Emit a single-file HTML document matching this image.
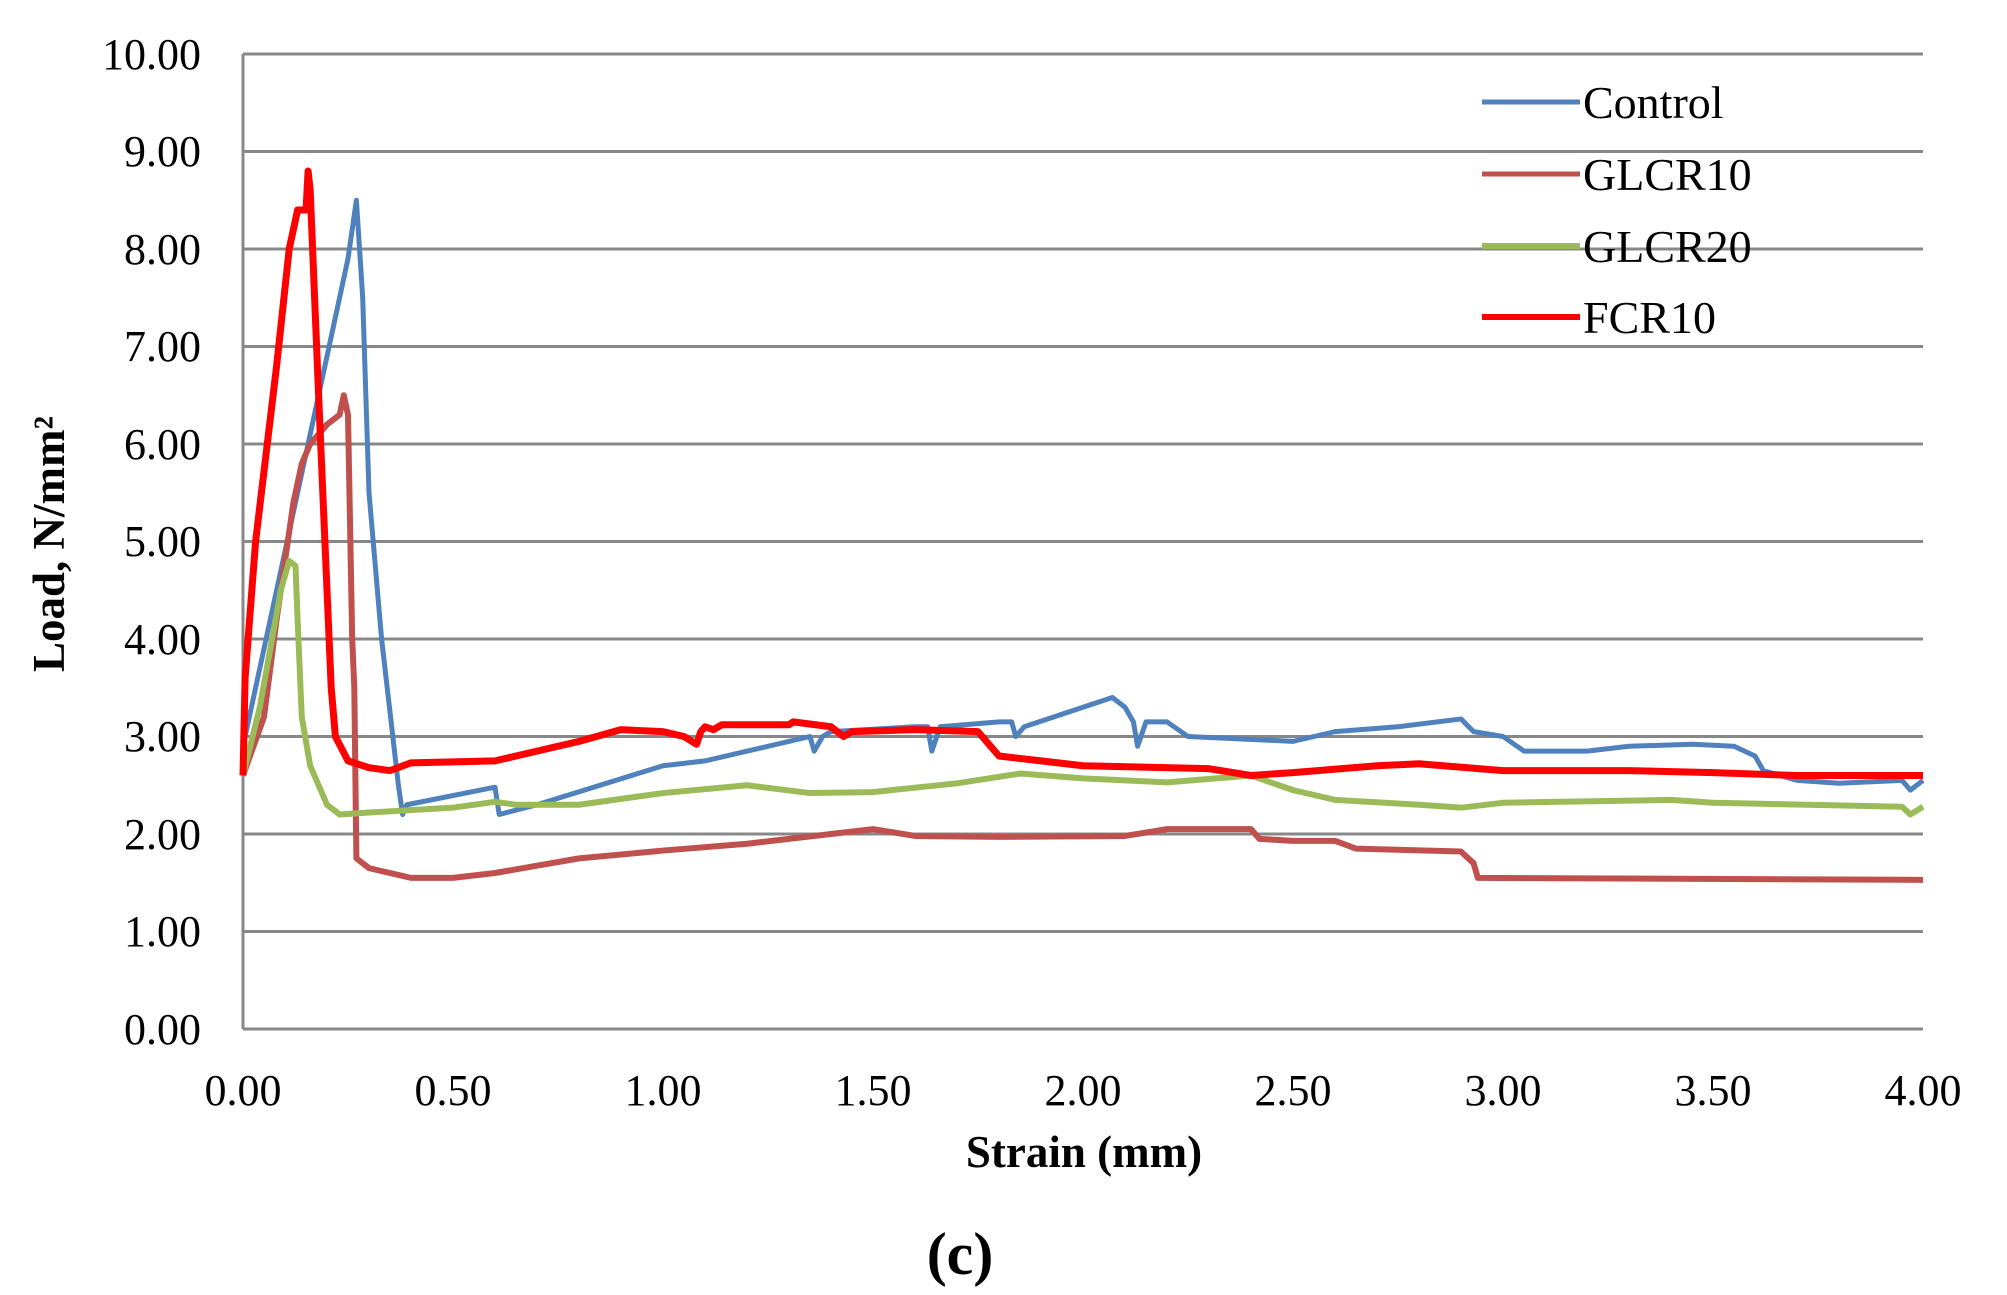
<!DOCTYPE html>
<html><head><meta charset="utf-8"><style>
html,body{margin:0;padding:0;background:#fff;}
svg{display:block;}
text{font-family:"Liberation Serif",serif;fill:#000;}
</style></head><body>
<svg width="2007" height="1295" viewBox="0 0 2007 1295" xmlns="http://www.w3.org/2000/svg">
<g stroke="#888" stroke-width="3">
<line x1="243" y1="54" x2="1923" y2="54"/>
<line x1="243" y1="151.5" x2="1923" y2="151.5"/>
<line x1="243" y1="249" x2="1923" y2="249"/>
<line x1="243" y1="346.5" x2="1923" y2="346.5"/>
<line x1="243" y1="444" x2="1923" y2="444"/>
<line x1="243" y1="541.5" x2="1923" y2="541.5"/>
<line x1="243" y1="639" x2="1923" y2="639"/>
<line x1="243" y1="736.5" x2="1923" y2="736.5"/>
<line x1="243" y1="834" x2="1923" y2="834"/>
<line x1="243" y1="931.5" x2="1923" y2="931.5"/>
<line x1="243" y1="1029" x2="1923" y2="1029"/>
<line x1="243" y1="54" x2="243" y2="1029"/>
</g>
<g font-size="44" text-anchor="end">
<text x="201" y="69">10.00</text>
<text x="201" y="166">9.00</text>
<text x="201" y="264">8.00</text>
<text x="201" y="361">7.00</text>
<text x="201" y="459">6.00</text>
<text x="201" y="556">5.00</text>
<text x="201" y="654">4.00</text>
<text x="201" y="751">3.00</text>
<text x="201" y="849">2.00</text>
<text x="201" y="946">1.00</text>
<text x="201" y="1044">0.00</text>
</g>
<g font-size="44" text-anchor="middle">
<text x="243" y="1105">0.00</text>
<text x="453" y="1105">0.50</text>
<text x="663" y="1105">1.00</text>
<text x="873" y="1105">1.50</text>
<text x="1083" y="1105">2.00</text>
<text x="1293" y="1105">2.50</text>
<text x="1503" y="1105">3.00</text>
<text x="1713" y="1105">3.50</text>
<text x="1923" y="1105">4.00</text>
</g>
<text x="1084" y="1167" font-size="45" font-weight="bold" text-anchor="middle">Strain (mm)</text>
<text x="960" y="1274" font-size="60" font-weight="bold" text-anchor="middle">(c)</text>
<text transform="translate(64,544) rotate(-90)" font-size="45" font-weight="bold" text-anchor="middle">Load, N/mm²</text>

<g transform="translate(243,1029) scale(420,-97.5)" fill="none" stroke-linejoin="round">
<polyline vector-effect="non-scaling-stroke" stroke="#4f81bd" stroke-width="5" points="0,2.9 0.05,3.9 0.1,4.9 0.15,5.9 0.2,6.9 0.25,7.9 0.27,8.5 0.285,7.5 0.3,5.5 0.33,4 0.37,2.5 0.38,2.2 0.39,2.3 0.6,2.48 0.61,2.2 0.7,2.3 1.0,2.7 1.1,2.75 1.35,3.0 1.36,2.85 1.38,3.0 1.4,3.05 1.6,3.1 1.63,3.1 1.64,2.85 1.66,3.1 1.8,3.15 1.83,3.15 1.84,3.0 1.86,3.1 2.07,3.4 2.1,3.3 2.12,3.15 2.13,2.9 2.15,3.15 2.2,3.15 2.25,3.0 2.5,2.95 2.6,3.05 2.75,3.1 2.9,3.18 2.93,3.05 3.0,3.0 3.05,2.85 3.2,2.85 3.3,2.9 3.45,2.92 3.55,2.9 3.6,2.8 3.62,2.65 3.7,2.55 3.8,2.52 3.95,2.55 3.97,2.45 4.0,2.55"/>
<polyline vector-effect="non-scaling-stroke" stroke="#c0504d" stroke-width="6" points="0,2.6 0.05,3.2 0.08,4.2 0.12,5.4 0.14,5.8 0.16,6.0 0.2,6.2 0.23,6.3 0.24,6.5 0.25,6.3 0.26,4 0.265,3.5 0.27,1.75 0.3,1.65 0.4,1.55 0.5,1.55 0.6,1.6 0.8,1.75 1.0,1.83 1.2,1.9 1.5,2.05 1.6,1.98 1.8,1.97 2.1,1.98 2.2,2.05 2.4,2.05 2.42,1.95 2.5,1.93 2.6,1.93 2.65,1.85 2.9,1.82 2.93,1.7 2.94,1.55 4.0,1.53"/>
<polyline vector-effect="non-scaling-stroke" stroke="#9bbb59" stroke-width="6" points="0,2.6 0.04,3.3 0.09,4.5 0.11,4.8 0.125,4.75 0.13,4.2 0.14,3.2 0.16,2.7 0.2,2.3 0.23,2.2 0.3,2.22 0.5,2.27 0.6,2.33 0.65,2.3 0.8,2.3 1.0,2.42 1.2,2.5 1.35,2.42 1.5,2.43 1.7,2.52 1.85,2.62 2.0,2.57 2.2,2.53 2.4,2.6 2.5,2.45 2.6,2.35 2.8,2.3 2.9,2.27 3.0,2.32 3.4,2.35 3.5,2.32 3.95,2.28 3.97,2.2 4.0,2.28"/>
<polyline vector-effect="non-scaling-stroke" stroke="#ff0000" stroke-width="7" points="0,2.6 0.005,3.6 0.03,5 0.08,6.8 0.11,8.0 0.13,8.4 0.15,8.4 0.155,8.8 0.16,8.6 0.18,6.5 0.21,3.5 0.22,3.0 0.25,2.75 0.3,2.68 0.35,2.65 0.4,2.73 0.6,2.75 0.7,2.85 0.8,2.95 0.9,3.07 1.0,3.05 1.05,3.0 1.08,2.92 1.09,3.05 1.1,3.1 1.12,3.07 1.14,3.12 1.3,3.12 1.31,3.15 1.4,3.1 1.43,3.0 1.45,3.05 1.6,3.07 1.75,3.05 1.8,2.8 1.9,2.75 2.0,2.7 2.3,2.67 2.4,2.6 2.5,2.63 2.7,2.7 2.8,2.72 3.0,2.65 3.3,2.65 3.5,2.63 3.7,2.6 4.0,2.6"/>
</g>

<line x1="1482" y1="102" x2="1580" y2="102" stroke="#4f81bd" stroke-width="5"/>
<line x1="1482" y1="174" x2="1580" y2="174" stroke="#c0504d" stroke-width="5"/>
<line x1="1482" y1="246" x2="1580" y2="246" stroke="#9bbb59" stroke-width="6"/>
<line x1="1482" y1="317" x2="1580" y2="317" stroke="#ff0000" stroke-width="6"/>
<g font-size="46">
<text x="1583" y="118">Control</text>
<text x="1583" y="190">GLCR10</text>
<text x="1583" y="262">GLCR20</text>
<text x="1583" y="333">FCR10</text>
</g>
</svg>
</body></html>
